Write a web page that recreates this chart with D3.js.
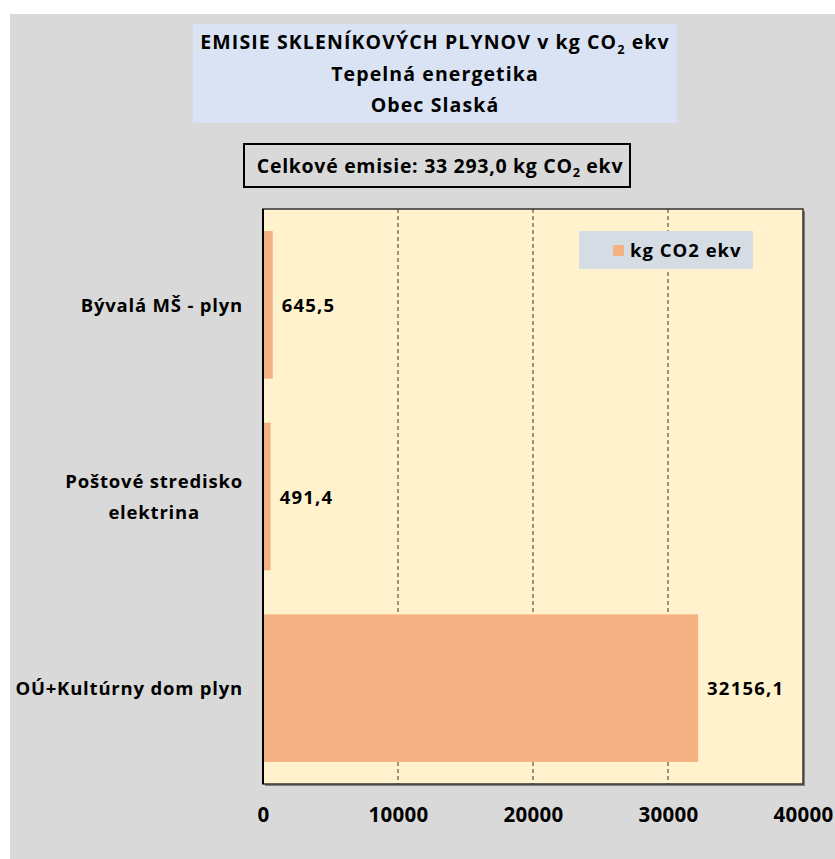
<!DOCTYPE html>
<html>
<head>
<meta charset="utf-8">
<script src="https://cdn.jsdelivr.net/npm/d3@7"></script>
<style>
  body { margin: 0; background: #ffffff; }
  text { font-family: "Open Sans", Lato, sans-serif; font-weight: bold; fill: #000; }
</style>
</head>
<body>
<div id="chart"></div>
<script>
// Data
const categories = ["Bývalá MŠ - plyn", "Poštové stredisko\nelektrina", "OÚ+Kultúrny dom plyn"];
const values = [645.5, 491.4, 32156.1];
const ticks = [0, 10000, 20000, 30000, 40000];
const seriesName = "kg CO2 ekv";
const titleLines = ["EMISIE SKLENÍKOVÝCH PLYNOV v kg CO|2| ekv", "Tepelná energetika", "Obec Slaská"];
const totalText = "Celkové emisie: 33 293,0 kg CO|2| ekv";

const W = 835, H = 859;
const plot = { left: 263, top: 209, right: 803, bottom: 784 };

const svg = d3.select("#chart").append("svg")
    .attr("width", W)
    .attr("height", H);

// Pozadie
svg.append("rect").attr("x", 10).attr("y", 14).attr("width", W - 10).attr("height", H - 14).attr("fill", "#d9d9d9");

// Text so subscriptom (CO2)
function subText(sel, str, size) {
    const parts = str.split("|");
    parts.forEach((p, i) => {
        const ts = sel.append("tspan").text(p);
        if (i === 1) ts.attr("font-size", size * 0.65).attr("dy", size * 0.25);
        if (i === 2) ts.attr("dy", -size * 0.25);
    });
}

// Titulok
svg.append("rect").attr("x", 193).attr("y", 24).attr("width", 484).attr("height", 99).attr("fill", "#dae3f3");
titleLines.forEach((t, i) => {
    const txt = svg.append("text")
        .attr("x", 435)
        .attr("y", 49 + i * 31.5)
        .attr("text-anchor", "middle")
        .attr("font-size", 19.5)
        .attr("letter-spacing", 1.1);
    subText(txt, t, 19.5);
});

// Celkové emisie
svg.append("rect").attr("x", 244).attr("y", 144).attr("width", 386).attr("height", 43)
    .attr("fill", "#d9d9d9").attr("stroke", "#000").attr("stroke-width", 2);
const tt = svg.append("text").attr("x", 440).attr("y", 172.5).attr("text-anchor", "middle")
    .attr("font-size", 19.5).attr("letter-spacing", 0.7);
subText(tt, totalText, 19.5);

// Skaly
const x = d3.scaleLinear().domain([0, 40000]).range([plot.left, plot.right]);
const y = d3.scaleBand().domain(categories).range([plot.top, plot.bottom]).paddingInner(0.23).paddingOuter(0.115);

// Plocha grafu s tieňom
svg.append("rect").attr("x", plot.left + 2).attr("y", plot.top + 2)
    .attr("width", plot.right - plot.left).attr("height", plot.bottom - plot.top).attr("fill", "#808080");
svg.append("rect").attr("x", plot.left).attr("y", plot.top)
    .attr("width", plot.right - plot.left).attr("height", plot.bottom - plot.top)
    .attr("fill", "#fff2cc").attr("stroke", "#333").attr("stroke-width", 1.5);

// Mriežka
svg.append("g").selectAll("line")
    .data(ticks.filter(d => d > 0 && d < 40000))
    .join("line")
    .attr("x1", d => x(d)).attr("x2", d => x(d))
    .attr("y1", plot.top).attr("y2", plot.bottom)
    .attr("stroke", "#333").attr("stroke-width", 1).attr("stroke-dasharray", "4,3");

// Stĺpce
svg.append("g").selectAll("rect")
    .data(values)
    .join("rect")
    .attr("x", x(0) + 1)
    .attr("y", (d, i) => y(categories[i]))
    .attr("width", d => x(d) - x(0))
    .attr("height", y.bandwidth())
    .attr("fill", "#f4b183");

// Ľavá os
svg.append("line").attr("x1", plot.left).attr("x2", plot.left).attr("y1", plot.top).attr("y2", plot.bottom)
    .attr("stroke", "#000").attr("stroke-width", 2);

// Hodnoty
svg.append("g").selectAll("text")
    .data(values)
    .join("text")
    .attr("x", d => x(d) + 10)
    .attr("y", (d, i) => y(categories[i]) + y.bandwidth() / 2 + 7)
    .attr("font-size", 18.5)
    .attr("letter-spacing", 1.2)
    .text(d => d.toFixed(1).replace(".", ","));

// Popisy kategórií
categories.forEach(c => {
    const lines = c.split("\n");
    const g = svg.append("text").attr("font-size", 18.5).attr("text-anchor", "middle").attr("letter-spacing", 0.8);
    const cy = y(c) + y.bandwidth() / 2;
    const spans = lines.map((l, i) => g.append("tspan")
        .attr("y", cy + 7 + (i - (lines.length - 1) / 2) * 31)
        .text(l));
    const maxW = d3.max(spans, s => s.node().getComputedTextLength());
    spans.forEach(s => s.attr("x", 243 - maxW / 2));
});

// Os X
const xAxis = svg.append("g")
    .attr("transform", `translate(0,${plot.bottom})`)
    .call(d3.axisBottom(x).tickValues(ticks).tickSize(0).tickPadding(23).tickFormat(d3.format("d")));
xAxis.select(".domain").remove();
xAxis.selectAll("text").attr("font-size", 20.5).attr("font-family", "'Open Sans', sans-serif")
    .attr("font-weight", "bold").attr("fill", "#000").attr("letter-spacing", 0.3);

// Legenda
svg.append("rect").attr("x", 579).attr("y", 231).attr("width", 174).attr("height", 38).attr("fill", "#d6dce4");
svg.append("rect").attr("x", 613).attr("y", 245).attr("width", 11).attr("height", 11).attr("fill", "#f4b183");
svg.append("text").attr("x", 630).attr("y", 257).attr("font-size", 18.5).attr("letter-spacing", 1).text(seriesName);
</script>
</body>
</html>
